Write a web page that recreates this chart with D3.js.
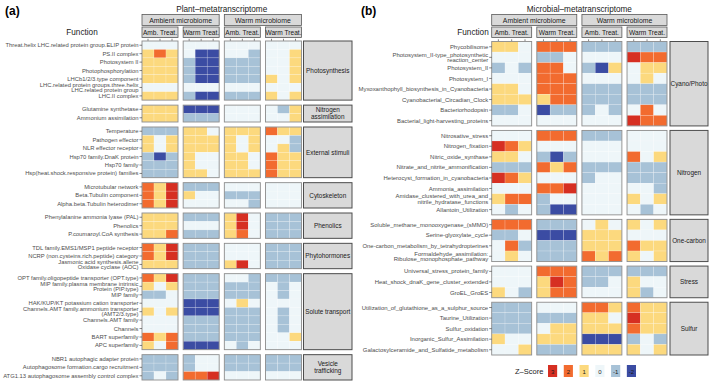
<!DOCTYPE html>
<html>
<head>
<meta charset="utf-8">
<script src="https://cdn.jsdelivr.net/npm/d3@7"></script>
<style>
  body { margin: 0; background: #fff; }
  svg { font-family: "Liberation Sans", Arial, sans-serif; }
</style>
</head>
<body>
<svg id="fig" width="709" height="381"></svg>
<script>
// facets / columns shared by both panels
var microbiomes = ["Ambient microbiome", "Warm microbiome"];
var treatments = ["Amb. Treat.", "Warm Treat."];
var reps = [1, 2, 3];
var zLevels = [3, 2, 1, 0, -1, -2];
var zColors = ["#d62f22", "#f26b2f", "#fcd97e", "#eef6f9", "#a7c2d7", "#3b4ca3"];

// (a) plant metatranscriptome
var plantGroups = ["Photosynthesis", "Nitrogen\nassimilation", "External stimuli", "Cytoskeleton",
  "Phenolics", "Phytohormones", "Solute transport", "Vesicle\ntrafficking"];
var plantGroupSize = [7, 2, 6, 3, 3, 3, 9, 3];
var plantFunctions = [
  "Threat.helix LHC.related protein group.ELIP protein", "PS.II complex", "Photosystem II",
  "Photophosphorylation", "LHCb1/2/3.type component",
  "LHC.related protein groups.three.helix\nLHC.related protein group", "LHC.II complex",
  "Glutamine synthetase", "Ammonium assimilation",
  "Temperature", "Pathogen effector", "NLR effector receptor", "Hsp70 family.DnaK protein",
  "Hsp70 family", "Hsp(heat.shock.responsive protein) families",
  "Microtubular network", "Beta.Tubulin component", "Alpha.beta.Tubulin heterodimer",
  "Phenylalanine ammonia lyase (PAL)", "Phenolics", "P.coumaroyl.CoA synthesis",
  "TDL family.EMS1/MSP1 peptide receptor", "NCRP (non.cysteins.rich.peptide) category",
  "Jasmonic acid synthesis.allene\nOxidase cyclase (AOC)",
  "OPT family.oligopeptide transporter (OPT.type)", "MIP family.plasma membrane intrinsic\nProtein (PIP.type)",
  "MIP family", "HAK/KUP/KT potassium cation transporter",
  "Channels.AMT family.ammonium transporter\n(AMT2/3.type)", "Channels.AMT family", "Channels",
  "BART superfamily", "APC superfamily",
  "NBR1 autophagic adapter protein", "Autophagosome formation.cargo recruitment",
  "ATG1.13 autophagosome assembly control complex"];
var plantZ = [
  [0,0,0, 0,0,0, 0,0,0, 0,0,0],
  [1,2,1, 0,-2,-2, 0,0,-1, 0,0,1],
  [1,1,1, -1,-2,-2, -1,-1,-1, 0,0,1],
  [1,1,1, -1,-2,-2, -1,-1,-1, 0,0,1],
  [1,1,1, -1,-2,-2, -1,-1,-1, 1,0,1],
  [0,0,0, 0,0,0, 0,0,0, 0,0,0],
  [1,1,1, -1,-2,-2, -1,-1,-1, 1,0,1],
  [1,1,1, -2,-2,-2, 0,0,0, 0,-1,1],
  [1,1,1, -1,-1,-1, 0,0,0, 0,0,1],
  [-1,-1,-1, 1,1,0, 1,1,1, 2,1,1],
  [1,0,1, 1,1,1, 1,0,1, 0,0,-1],
  [1,0,1, 1,1,1, 1,0,1, 0,1,-1],
  [-1,-2,-1, 1,0,0, 1,1,0, 2,1,1],
  [-1,-1,-1, 1,0,0, 1,1,0, 2,1,1],
  [-1,-1,-1, 1,1,0, 1,1,1, 2,1,1],
  [2,1,3, -1,-1,-1, 0,0,0, 0,0,0],
  [2,1,3, 1,0,0, -1,-1,-1, 0,0,0],
  [2,1,3, 0,0,0, 0,0,-1, 0,0,0],
  [1,1,1, -1,-1,-1, 1,3,0, -1,-1,-1],
  [1,1,1, 0,0,0, 1,3,0, -1,-1,-1],
  [1,1,2, -1,-1,-1, 1,2,0, -1,-1,-1],
  [2,1,3, -1,-1,-1, 0,0,0, -1,-1,-1],
  [2,1,3, -1,-1,-1, 0,0,0, -1,-1,-1],
  [1,1,1, -1,-1,-1, 1,3,0, -1,-1,-1],
  [2,1,3, -1,-1,-1, 0,0,-1, -1,-1,-1],
  [1,0,1, -1,-1,-1, -1,-1,-1, 0,-1,0],
  [-1,-1,0, -1,-1,-1, -1,-1,-1, 0,-1,0],
  [0,0,0, -2,-2,-2, 0,1,0, 0,0,0],
  [1,0,1, -2,-2,-2, -1,-1,-1, 0,-1,0],
  [0,0,0, -1,-1,-1, -1,-1,-1, 0,-1,0],
  [0,0,0, -1,-1,-1, -1,-1,-1, 0,-1,0],
  [2,1,2, -1,-1,-1, -1,-1,-1, 0,0,1],
  [1,0,2, -2,-2,-2, 0,-1,0, 0,0,0],
  [-1,-1,-1, -1,0,0, -1,-1,-1, -1,-1,-1],
  [-1,-1,-1, -1,0,0, -1,-1,-1, -1,-1,-1],
  [-1,0,-1, 2,2,3, 0,0,0, 0,0,0]
];

// (b) microbial metatranscriptome
var microGroups = ["Cyano/Photo", "Nitrogen", "One-carbon", "Stress", "Sulfur"];
var microGroupSize = [8, 8, 4, 3, 5];
var microFunctions = [
  "Phycobilisome", "Photosystem_II-type_photosynthetic\nreaction_center", "Photosystem_II",
  "Photosystem_I", "Myxoxanthophyll_biosynthesis_in_Cyanobacteria", "Cyanobacterial_Circadian_Clock",
  "Bacteriorhodopsin", "Bacterial_light-harvesting_proteins",
  "Nitrosative_stress", "Nitrogen_fixation", "Nitric_oxide_synthase", "Nitrate_and_nitrite_ammonification",
  "Heterocyst_formation_in_cyanobacteria", "Ammonia_assimilation",
  "Amidase_clustered_with_urea_and\nnitrile_hydratase_functions", "Allantoin_Utilization",
  "Soluble_methane_monooxygenase_(sMMO)", "Serine-glyoxylate_cycle",
  "One-carbon_metabolism_by_tetrahydropterines", "Formaldehyde_assimilation:\nRibulose_monophosphate_pathway",
  "Universal_stress_protein_family", "Heat_shock_dnaK_gene_cluster_extended", "GroEL_GroES",
  "Utilization_of_glutathione_as_a_sulphur_source", "Taurine_Utilization", "Sulfur_oxidation",
  "Inorganic_Sulfur_Assimilation", "Galactosylceramide_and_Sulfatide_metabolism"];
var microZ = [
  [1,1,0, 2,2,2, -1,-1,-1, -1,-1,-1],
  [0,0,0, -1,-1,0, 0,0,0, 3,2,2],
  [-1,0,-1, 2,2,0, -1,-2,1, 0,1,1],
  [0,0,0, 2,2,2, 0,0,0, 0,1,0],
  [1,1,0, 2,2,2, -1,-1,-1, -1,-1,-1],
  [1,1,1, 1,2,2, -1,-1,-1, -1,-1,-1],
  [-1,-1,0, -2,-1,-1, -1,0,-1, 0,2,0],
  [0,0,0, 0,0,0, 0,0,0, 3,2,2],
  [0,0,0, 2,2,2, -1,-1,-1, 0,0,0],
  [3,2,1, 0,0,0, 0,0,0, 0,0,0],
  [1,1,0, -1,-2,-1, 0,0,0, 2,0,1],
  [-1,-1,-1, 2,1,2, -1,-1,-1, -1,-1,-1],
  [3,2,1, 0,0,0, -1,0,0, -1,-1,-1],
  [0,0,0, 2,2,3, 0,0,0, 0,0,-1],
  [1,2,2, -1,0,0, 0,0,0, 1,0,1],
  [0,-1,0, -1,-2,-2, 0,0,0, 0,-1,0],
  [2,2,2, -1,-1,-1, 0,1,0, 1,0,1],
  [-1,-1,0, -2,-2,-2, 1,1,1, 0,0,0],
  [0,2,-1, -1,-1,-1, 1,1,1, 2,1,1],
  [0,1,0, -1,-1,-1, 2,1,2, 1,0,1],
  [0,0,0, 2,2,2, -1,-1,-1, -1,-1,-1],
  [0,0,0, 1,3,2, -1,-1,0, 1,0,0],
  [1,0,-1, 1,2,2, 0,0,0, 1,-1,0],
  [-1,-1,-1, 0,0,0, 2,2,1, 2,1,1],
  [-1,-1,-1, -1,-1,-1, 1,1,0, 3,1,1],
  [-1,-1,-1, 0,1,1, 1,1,1, 2,1,1],
  [1,0,0, 1,1,1, -2,-2,-2, -1,0,-1],
  [0,0,1, -1,-1,-1, 1,1,1, 1,0,1]
];

var color = d3.scaleOrdinal().domain(zLevels).range(zColors);
var svg = d3.select("#fig");

function multiline(sel, label, lh) {
  var lines = label.split("\n");
  sel.selectAll("tspan").data(lines).enter().append("tspan")
    .attr("x", sel.attr("x"))
    .attr("dy", (d, i) => i === 0 ? (-(lines.length - 1) * lh / 2 + 0.35) + "em" : lh + "em")
    .text(d => d);
}

function drawChart(cfg) {
  var g = svg.append("g");
  var facets = [];
  microbiomes.forEach(m => treatments.forEach(t => facets.push(m + "|" + t)));

  var xFacet = d3.scaleBand().domain(facets).range([cfg.x0, cfg.x1]).paddingInner(cfg.gap / ((cfg.x1 - cfg.x0) / 4));
  var xRep = d3.scaleBand().domain(reps).range([0, xFacet.bandwidth()]);

  // rows: one band scale per group
  var nRows = d3.sum(cfg.sizes);
  var rowH = (cfg.y1 - cfg.y0 - cfg.vgap * (cfg.sizes.length - 1)) / nRows;
  var groups = [];
  var start = 0, top = cfg.y0;
  cfg.sizes.forEach((n, gi) => {
    var idx = d3.range(start, start + n);
    var y = d3.scaleBand().domain(idx).range([top, top + n * rowH]);
    groups.push({name: cfg.groups[gi], idx: idx, y: y, top: top, bottom: top + n * rowH});
    start += n;
    top += n * rowH + cfg.vgap;
  });

  // panel letter + title
  g.append("text").attr("x", cfg.letterX).attr("y", 15).style("font-size", "12px")
    .style("font-weight", "bold").text(cfg.letter);
  g.append("text").attr("x", (cfg.x0 + cfg.x1) / 2).attr("y", 12).attr("text-anchor", "middle")
    .style("font-size", "8.2px").attr("fill", "#1a1a1a").text(cfg.title);
  g.append("text").attr("x", cfg.funcX).attr("y", 35).attr("text-anchor", "middle")
    .style("font-size", "8.2px").attr("fill", "#1a1a1a").text("Function");

  // top strips
  microbiomes.forEach(m => {
    var a = xFacet(m + "|" + treatments[0]), b = xFacet(m + "|" + treatments[1]) + xFacet.bandwidth();
    g.append("rect").attr("x", a).attr("y", 14.5).attr("width", b - a).attr("height", 11)
      .attr("fill", "#d9d9d9").attr("stroke", "#595959").attr("stroke-width", 0.8);
    g.append("text").attr("x", (a + b) / 2).attr("y", 22.5).attr("text-anchor", "middle")
      .style("font-size", "6.9px").attr("fill", "#1a1a1a").text(m);
  });
  facets.forEach(f => {
    g.append("rect").attr("x", xFacet(f)).attr("y", 27).attr("width", xFacet.bandwidth()).attr("height", 10.5)
      .attr("fill", "#d9d9d9").attr("stroke", "#595959").attr("stroke-width", 0.8);
    g.append("text").attr("x", xFacet(f) + xFacet.bandwidth() / 2).attr("y", 34.6).attr("text-anchor", "middle")
      .style("font-size", "6.6px").attr("fill", "#1a1a1a").text(f.split("|")[1]);
    reps.forEach(r => {
      var cx = xFacet(f) + xRep(r) + xRep.bandwidth() / 2;
      g.append("line").attr("x1", cx).attr("x2", cx).attr("y1", cfg.y0 - 2.2).attr("y2", cfg.y0)
        .attr("stroke", "#333").attr("stroke-width", 0.6);
    });
  });

  groups.forEach(grp => {
    // cells
    facets.forEach((f, fi) => {
      var cells = [];
      grp.idx.forEach(ri => reps.forEach((r, k) => cells.push({ri: ri, r: r, v: cfg.z[ri][fi * 3 + k]})));
      g.selectAll(null).data(cells).enter().append("rect")
        .attr("x", d => xFacet(f) + xRep(d.r))
        .attr("y", d => grp.y(d.ri))
        .attr("width", xRep.bandwidth())
        .attr("height", grp.y.bandwidth())
        .attr("fill", d => color(d.v))
        .attr("stroke", "#ffffff").attr("stroke-opacity", 0.45).attr("stroke-width", 0.4);
      g.append("rect").attr("x", xFacet(f)).attr("y", grp.top).attr("width", xFacet.bandwidth())
        .attr("height", grp.bottom - grp.top).attr("fill", "none")
        .attr("stroke", "#8c8c8c").attr("stroke-width", 0.9);
    });

    // y axis labels + ticks
    grp.idx.forEach(ri => {
      var cy = grp.y(ri) + grp.y.bandwidth() / 2;
      g.append("line").attr("x1", cfg.x0 - 2.5).attr("x2", cfg.x0).attr("y1", cy).attr("y2", cy)
        .attr("stroke", "#333").attr("stroke-width", 0.6);
      var t = g.append("text").attr("x", cfg.x0 - 3.5).attr("y", cy).attr("text-anchor", "end")
        .style("font-size", cfg.labelSize).attr("fill", "#4d4d4d");
      multiline(t, cfg.functions[ri], 0.95);
    });

    // right strip
    g.append("rect").attr("x", cfg.sx0).attr("y", grp.top).attr("width", cfg.sx1 - cfg.sx0)
      .attr("height", grp.bottom - grp.top).attr("fill", "#d9d9d9")
      .attr("stroke", "#4d4d4d").attr("stroke-width", 1);
    var st = g.append("text").attr("x", (cfg.sx0 + cfg.sx1) / 2).attr("y", (grp.top + grp.bottom) / 2)
      .attr("text-anchor", "middle").style("font-size", cfg.stripSize).attr("fill", "#1a1a1a");
    multiline(st, grp.name, 1.1);
  });
}

drawChart({
  letter: "(a)", letterX: 5, title: "Plant\u2013metatranscriptome", funcX: 82,
  groups: plantGroups, sizes: plantGroupSize, functions: plantFunctions, z: plantZ,
  x0: 142, x1: 301.5, gap: 5, y0: 41, y1: 380, vgap: 5, sx0: 303.5, sx1: 352,
  labelSize: "5.85px", stripSize: "6.4px"
});

drawChart({
  letter: "(b)", letterX: 361, title: "Microbial\u2013metatranscriptome", funcX: 473,
  groups: microGroups, sizes: microGroupSize, functions: microFunctions, z: microZ,
  x0: 491.7, x1: 667, gap: 5, y0: 41.5, y1: 355, vgap: 4.5, sx0: 670, sx1: 708,
  labelSize: "5.95px", stripSize: "6.4px"
});

// legend
var legend = svg.append("g");
legend.append("text").attr("x", 515).attr("y", 374).style("font-size", "7.5px").attr("fill", "#1a1a1a").text("Z\u2013Score");
var xLeg = d3.scaleBand().domain(zLevels).range([548, 636]).paddingInner(0.42);
zLevels.forEach(z => {
  legend.append("rect").attr("x", xLeg(z)).attr("y", 365).attr("width", xLeg.bandwidth()).attr("height", 12)
    .attr("fill", color(z));
  legend.append("text").attr("x", xLeg(z) + xLeg.bandwidth() / 2).attr("y", 373.5).attr("text-anchor", "middle")
    .style("font-size", "6px").attr("fill", "#1a1a1a").text(z);
});
</script>
</body>
</html>
